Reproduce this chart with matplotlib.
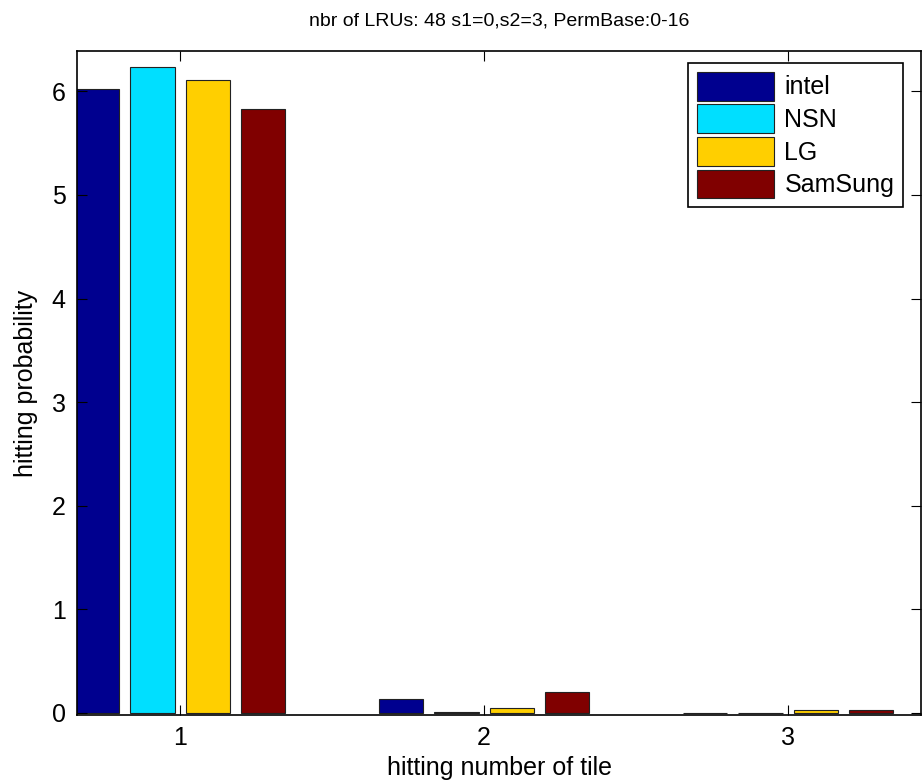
import numpy as np
import matplotlib
matplotlib.use("Agg")
import matplotlib.pyplot as plt

plt.rcParams['font.family'] = ['Liberation Sans', 'DejaVu Sans']

# Data
groups = [1, 2, 3]
series_names = ['intel', 'NSN', 'LG', 'SamSung']
intel = [6.02, 0.13, 0.003]
nsn = [6.24, 0.005, 0.003]
lg = [6.11, 0.05, 0.03]
samsung = [5.83, 0.20, 0.03]
colors = ['#00008f', '#00dfff', '#ffcf00', '#800000']

fig = plt.figure(figsize=(9.24, 7.82), dpi=100)
ax = fig.add_axes([0.0833, 0.0857, 0.9135, 0.8491])

# MATLAB style grouped bars
n = 4
group_width = min(0.8, n / (n + 1.5))
step = group_width / n
width = step * 0.8
x = np.array(groups, dtype=float)
for i, (vals, name) in enumerate(zip([intel, nsn, lg, samsung], series_names)):
    offset = (i - (n - 1) / 2) * step
    ax.bar(x + offset, vals, width, color=colors[i], edgecolor='#222222',
           linewidth=0.8, label=name)

ax.set_xlim(0.661, 3.4375)
ax.set_ylim(-0.02, 6.39)
ax.set_xticks(groups)
ax.set_yticks(range(0, 7))
ax.tick_params(direction='in', top=True, right=True, length=7, labelsize=18, pad=8)
for s in ax.spines.values():
    s.set_linewidth(1.2)

ax.set_xlabel('hitting number of tile', fontsize=18, labelpad=4)
ax.set_ylabel('hitting probability', fontsize=18, labelpad=10)
ax.set_title('nbr of LRUs: 48 s1=0,s2=3, PermBase:0-16', fontsize=14, pad=18)

leg = ax.legend(loc='upper right', bbox_to_anchor=(0.9787, 0.982), borderaxespad=0,
                fontsize=18, fancybox=False, edgecolor='black', framealpha=1,
                handlelength=3.1, handleheight=1.4, handletextpad=0.4,
                labelspacing=0.15, borderpad=0.35)
leg.get_frame().set_linewidth(1.2)

fig.savefig('out.png', dpi=100)
